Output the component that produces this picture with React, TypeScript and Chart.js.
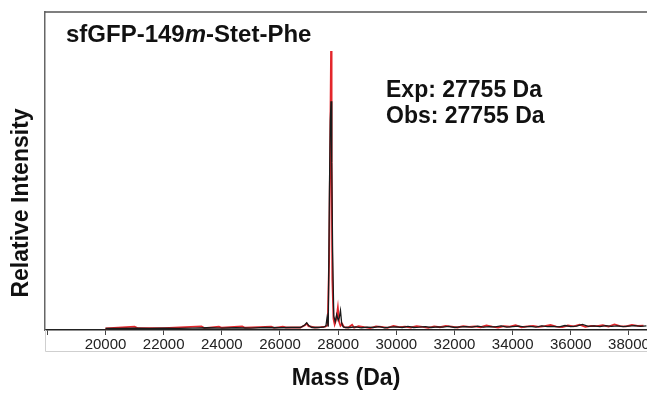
import React, { useEffect, useRef } from "react";
import { Chart, registerables } from "chart.js";

Chart.register(...registerables);

// ---- data (mass in Da, relative intensity in %) ----
const blackMass = [
  20000, 20500, 21000, 21500, 22000, 22500, 23000, 23500, 24000, 24500, 25000, 25500, 26000, 26400,
  26700, 26850, 26920, 26990, 27100, 27300, 27500, 27580, 27620, 27660, 27700, 27730, 27755, 27780,
  27810, 27850, 27900, 27950, 28000, 28040, 28080, 28120, 28170, 28250,
  28400, 28600, 28800, 29000, 29200, 29400, 29600, 29800, 30000, 30200, 30400, 30600, 30800, 31000,
  31200, 31400, 31600, 31800, 32000, 32200, 32400, 32600, 32800, 33000, 33200, 33400, 33600, 33800,
  34000, 34200, 34400, 34600, 34800, 35000, 35200, 35400, 35600, 35800, 36000, 36200, 36400, 36600,
  36800, 37000, 37200, 37400, 37600, 37800, 38000, 38200, 38400, 38600,
];
const blackIntensity = [
  0.6, 0.6, 0.7, 0.6, 0.7, 0.6, 0.7, 0.8, 0.7, 0.8, 0.7, 0.9, 0.8, 0.9,
  0.9, 1.8, 2.6, 1.6, 0.9, 0.9, 1.0, 1.5, 4.5, 1.2, 50, 75, 82, 60,
  28, 5, 3.0, 5.5, 3.5, 4.5, 7.0, 2.5, 1.2, 0.9,
  0.9, 1.1, 0.8, 1.0, 0.9, 1.2, 0.8, 1.0, 1.1, 0.9, 1.3, 0.9, 1.0, 1.2,
  0.9, 1.1, 1.0, 1.3, 0.9, 1.1, 1.2, 1.0, 1.4, 1.0, 1.2, 1.1, 1.5, 1.0,
  1.2, 1.4, 1.1, 1.3, 1.0, 1.5, 1.2, 1.3, 1.1, 1.6, 1.2, 1.4, 2.0, 1.3,
  1.5, 1.2, 1.6, 1.3, 1.5, 1.2, 1.4, 1.6, 1.3, 1.5,
];
const redMass = [
  20000, 21000, 21100, 22000, 23300, 23400, 23900, 24000, 24700, 24800, 25700, 25800, 26100, 26200,
  26700, 26860, 26920, 26980, 27200, 27400, 27560, 27640, 27690, 27730, 27755, 27775, 27800, 27840,
  27880, 27940, 27990, 28030, 28080, 28140, 28200, 28350, 28480, 28550,
  28700, 28900, 29100, 29300, 29500, 29700, 29900, 30100, 30300, 30500, 30700, 30900, 31100, 31300,
  31500, 31700, 31900, 32100, 32300, 32500, 32700, 32900, 33100, 33300, 33500, 33700, 33900, 34100,
  34300, 34500, 34700, 34900, 35100, 35300, 35500, 35700, 35900, 36100, 36300, 36500, 36700, 36900,
  37100, 37300, 37500, 37700, 37900, 38100, 38300, 38500,
];
const redIntensity = [
  0.6, 1.2, 0.7, 0.7, 1.3, 0.7, 1.2, 0.8, 1.3, 0.8, 1.2, 0.8, 1.2, 0.9,
  0.9, 1.7, 2.3, 1.4, 0.9, 1.0, 1.2, 1.8, 25, 70, 100, 60, 18, 4,
  2, 4.0, 8.0, 3, 1.5, 2.2, 1, 0.9, 1.9, 0.8,
  1.4, 1.0, 0.7, 1.3, 1.1, 0.8, 1.5, 1.0, 1.2, 0.9, 1.4, 1.1, 0.8, 1.3,
  1.0, 1.5, 1.2, 0.9, 1.4, 1.1, 1.3, 1.0, 1.6, 1.2, 0.9, 1.4, 1.2, 1.7,
  1.0, 1.3, 1.5, 1.1, 1.4, 1.8, 1.2, 1.0, 1.6, 1.3, 1.9, 1.1, 1.5, 1.4,
  1.7, 1.2, 2.0, 1.4, 1.3, 1.8, 1.5, 1.6,
];

const titleParts = ["sfGFP-149", "m", "-Stet-Phe"];
const expLabel = "Exp: 27755 Da";
const obsLabel = "Obs: 27755 Da";
const xAxisTitle = "Mass (Da)";
const yAxisTitle = "Relative Intensity";
const hiddenTickValues = [18000];

const FONT = '"Liberation Sans", Arial, Helvetica, sans-serif';

const annotations = {
  id: "annotations",
  afterDraw(chart: any) {
    const { ctx, chartArea } = chart;
    const { left, top, right, bottom } = chartArea;
    ctx.save();
    // top frame
    ctx.strokeStyle = "#555";
    ctx.lineWidth = 1.5;
    ctx.beginPath();
    ctx.moveTo(left, top);
    ctx.lineTo(right, top);
    ctx.stroke();
    // light box around tick labels
    ctx.strokeStyle = "#cfcfcf";
    ctx.lineWidth = 1;
    ctx.beginPath();
    ctx.moveTo(left + 0.5, bottom);
    ctx.lineTo(left + 0.5, bottom + 21.5);
    ctx.lineTo(right, bottom + 21.5);
    ctx.stroke();

    ctx.fillStyle = "#111";
    ctx.textBaseline = "alphabetic";
    ctx.textAlign = "left";
    // title
    let x = 66;
    const ty = 42;
    ctx.font = `bold 24px ${FONT}`;
    ctx.fillText(titleParts[0], x, ty);
    x += ctx.measureText(titleParts[0]).width;
    ctx.font = `italic bold 24px ${FONT}`;
    ctx.fillText(titleParts[1], x, ty);
    x += ctx.measureText(titleParts[1]).width;
    ctx.font = `bold 24px ${FONT}`;
    ctx.fillText(titleParts[2], x, ty);

    ctx.font = `bold 23px ${FONT}`;
    ctx.fillText(expLabel, 386, 97);
    ctx.fillText(obsLabel, 386, 123);

    // axis titles
    ctx.font = `bold 23px ${FONT}`;
    ctx.textAlign = "center";
    ctx.fillText(xAxisTitle, 346, 385);
    ctx.save();
    ctx.translate(22, 203);
    ctx.rotate(-Math.PI / 2);
    ctx.textBaseline = "middle";
    ctx.fillText(yAxisTitle, 0, 0);
    ctx.restore();
    ctx.restore();
  },
};

export default function App() {
  const ref = useRef<HTMLCanvasElement | null>(null);
  useEffect(() => {
    document.body.style.margin = "0";
    if (!ref.current) return;
    const chart = new Chart(ref.current, {
      type: "line",
      data: {
        datasets: [
          {
            label: "black",
            data: blackMass.map((m, i) => ({ x: m, y: blackIntensity[i] })),
            borderColor: "#1a1a1a",
            borderWidth: 1.3,
            pointRadius: 0,
            tension: 0,
            order: 0,
          },
          {
            label: "red",
            data: redMass.map((m, i) => ({ x: m, y: redIntensity[i] })),
            borderColor: "#e3262b",
            borderWidth: 1.8,
            pointRadius: 0,
            tension: 0,
            order: 1,
          },
        ],
      },
      options: {
        responsive: false,
        animation: false,
        layout: { padding: { left: 45, top: 12, right: 0, bottom: 0 } },
        plugins: { legend: { display: false }, tooltip: { enabled: false } },
        scales: {
          x: {
            type: "linear",
            min: 17920,
            max: 38620,
            afterBuildTicks: (s: any) => {
              const t = [];
              for (let v = 18000; v <= 38000; v += 2000) t.push({ value: v });
              s.ticks = t;
            },
            ticks: {
              autoSkip: false,
              maxRotation: 0,
              padding: 1,
              color: "#222",
              font: { family: FONT, size: 15 },
              callback: (v: any) => (hiddenTickValues.includes(Number(v)) ? "" : String(v)),
            },
            grid: { drawOnChartArea: false, drawTicks: true, tickLength: 5, color: "#444", lineWidth: 1 },
            border: { display: true, color: "#222", width: 1.5 },
            afterFit: (s: any) => {
              s.height = 63;
              s.paddingLeft = 0;
              s.paddingRight = 0;
            },
          },
          y: {
            min: 0,
            max: 114,
            ticks: { display: false },
            grid: { display: false },
            border: { display: true, color: "#666", width: 1.5 },
            afterFit: (s: any) => {
              s.width = 0;
            },
          },
        },
      },
      plugins: [annotations],
    });
    return () => chart.destroy();
  }, []);
  return <canvas ref={ref} width={647} height={393} style={{ display: "block" }} />;
}
